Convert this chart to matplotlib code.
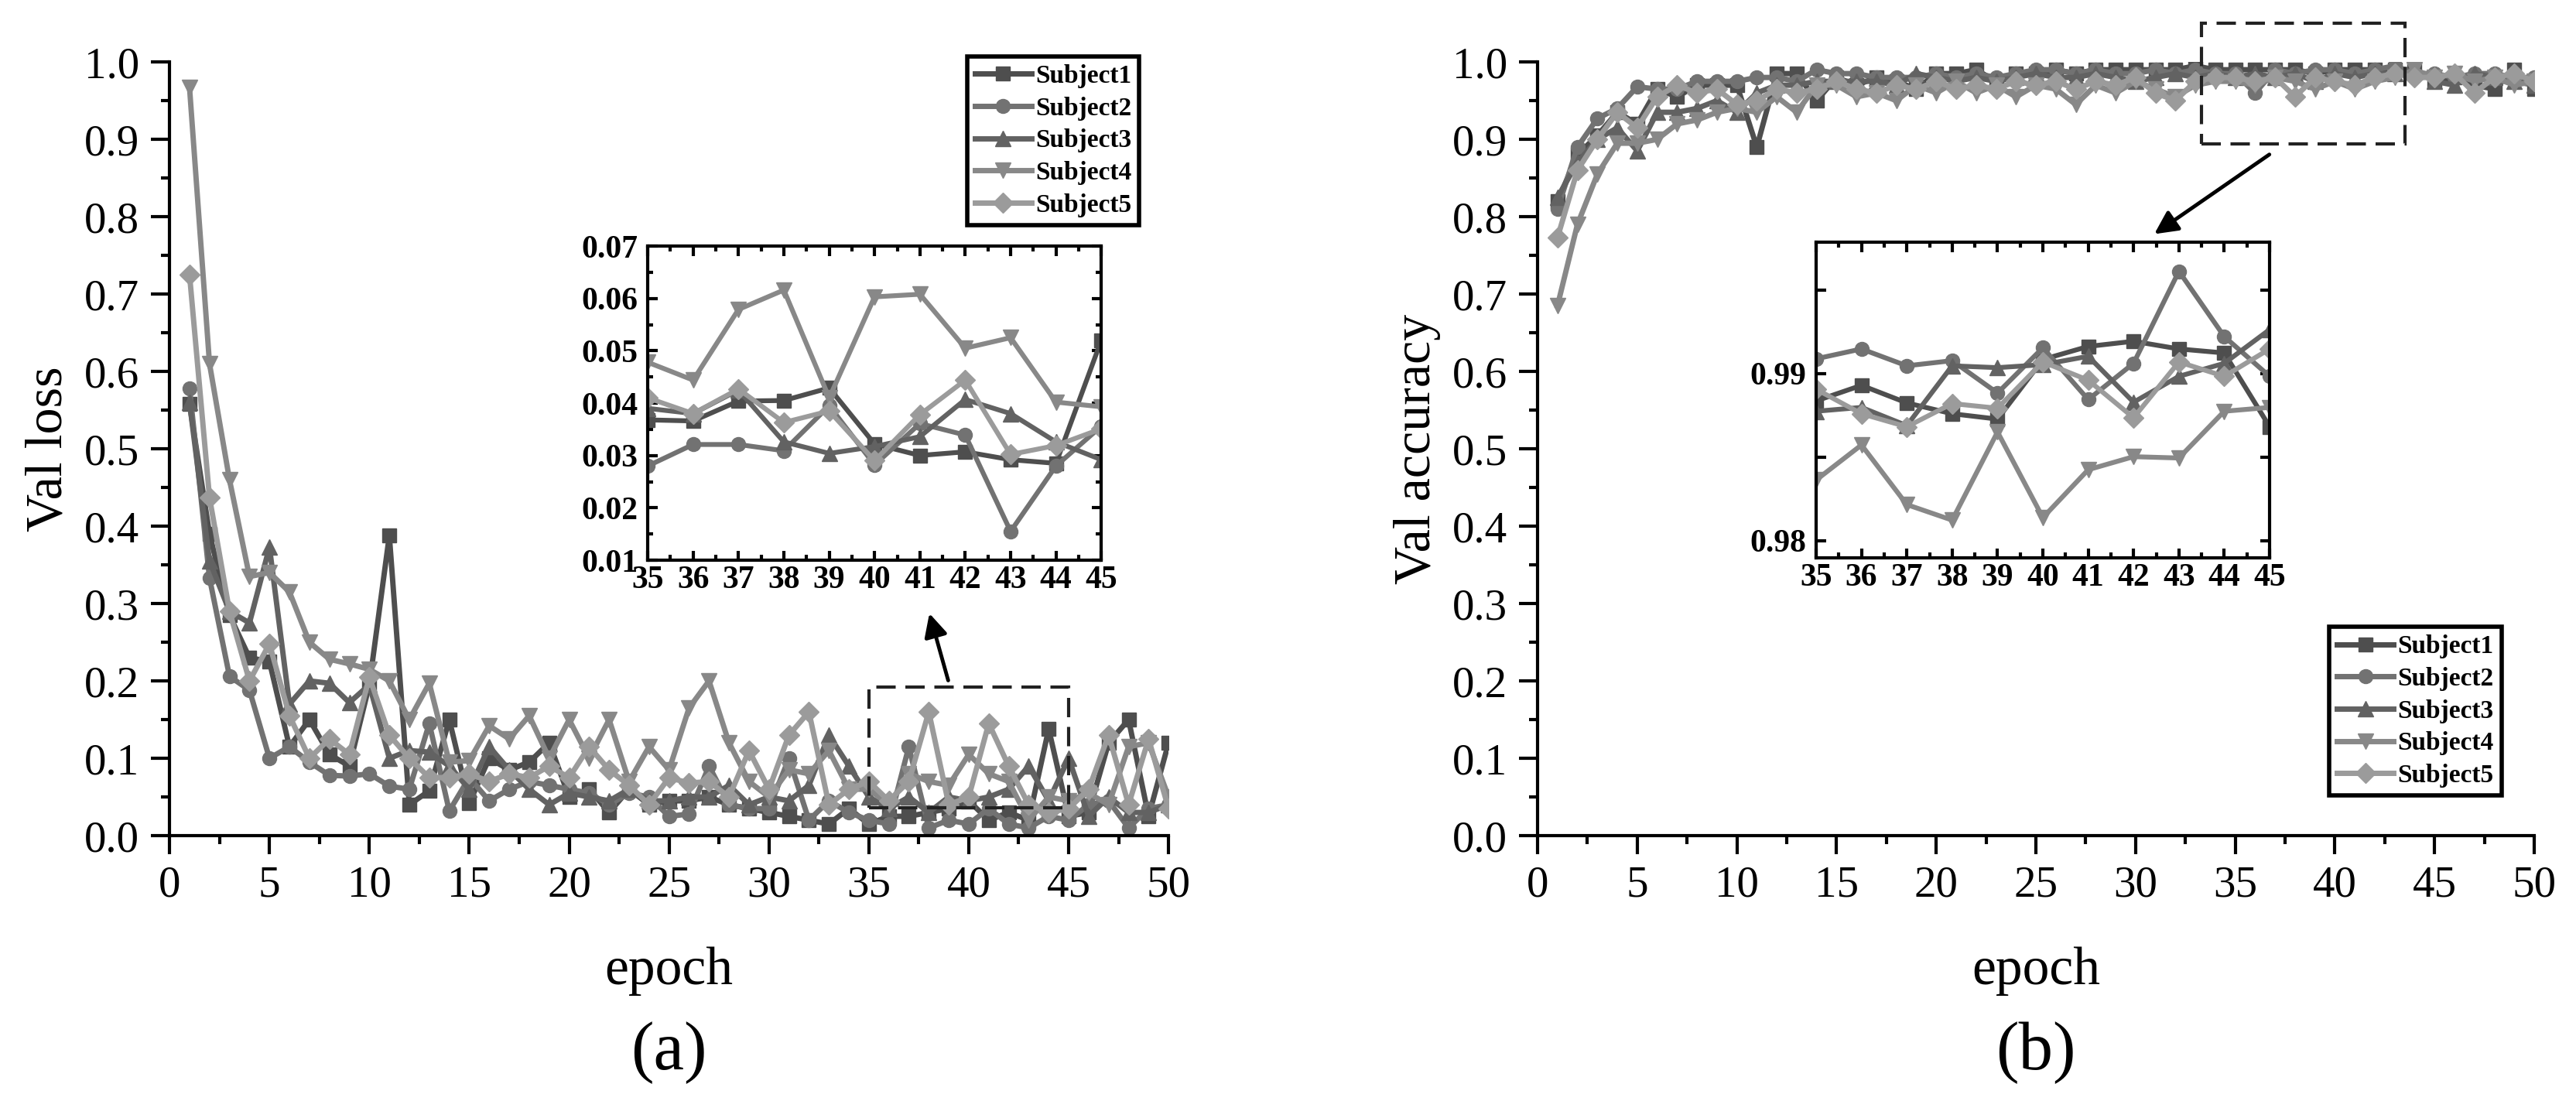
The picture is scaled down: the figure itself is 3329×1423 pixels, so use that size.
import numpy as np
import matplotlib
matplotlib.use("Agg")
from matplotlib import pyplot as plt
from matplotlib.patches import Rectangle
from matplotlib.ticker import MultipleLocator, FixedLocator

plt.rcParams['font.family'] = ['Liberation Serif', 'DejaVu Serif']

epochs = list(range(1, 51))
names = ["Subject1", "Subject2", "Subject3", "Subject4", "Subject5"]

# val loss, epochs 1..50
loss_s1 = [0.558, 0.39, 0.285, 0.23, 0.225, 0.115, 0.15, 0.105, 0.09, 0.195,
           0.388, 0.04, 0.058, 0.15, 0.042, 0.10, 0.085, 0.095, 0.12, 0.05,
           0.06, 0.03, 0.06, 0.04, 0.045, 0.045, 0.05, 0.04, 0.035, 0.03,
           0.025, 0.02, 0.015, 0.035, 0.015, 0.025, 0.025, 0.03, 0.035, 0.045,
           0.02, 0.03, 0.02, 0.138, 0.025, 0.03, 0.12, 0.15, 0.025, 0.12]
loss_s2 = [0.578, 0.333, 0.206, 0.188, 0.10, 0.115, 0.095, 0.078, 0.077, 0.08,
           0.064, 0.06, 0.145, 0.032, 0.075, 0.045, 0.06, 0.07, 0.065, 0.06,
           0.055, 0.04, 0.055, 0.05, 0.025, 0.028, 0.09, 0.04, 0.035, 0.035,
           0.10, 0.02, 0.045, 0.03, 0.02, 0.015, 0.115, 0.01, 0.02, 0.015,
           0.035, 0.015, 0.01, 0.025, 0.02, 0.04, 0.045, 0.01, 0.035, 0.04]
loss_s3 = [0.56, 0.355, 0.29, 0.275, 0.373, 0.17, 0.20, 0.197, 0.172, 0.195,
           0.10, 0.11, 0.108, 0.09, 0.06, 0.115, 0.085, 0.06, 0.04, 0.055,
           0.05, 0.045, 0.06, 0.045, 0.045, 0.05, 0.05, 0.065, 0.04, 0.05,
           0.045, 0.065, 0.13, 0.09, 0.05, 0.035, 0.05, 0.03, 0.05, 0.045,
           0.05, 0.06, 0.09, 0.045, 0.10, 0.025, 0.05, 0.03, 0.03, 0.04]
loss_s4 = [0.967, 0.61, 0.46, 0.335, 0.34, 0.315, 0.25, 0.228, 0.222, 0.215,
           0.20, 0.15, 0.197, 0.095, 0.097, 0.142, 0.125, 0.155, 0.10, 0.15,
           0.10, 0.15, 0.07, 0.115, 0.085, 0.165, 0.20, 0.12, 0.07, 0.05,
           0.085, 0.08, 0.11, 0.06, 0.06, 0.04, 0.08, 0.07, 0.065, 0.105,
           0.08, 0.07, 0.02, 0.05, 0.045, 0.055, 0.04, 0.115, 0.12, 0.05]
loss_s5 = [0.725, 0.437, 0.29, 0.20, 0.248, 0.155, 0.10, 0.125, 0.105, 0.205,
           0.13, 0.10, 0.075, 0.075, 0.08, 0.07, 0.08, 0.075, 0.09, 0.075,
           0.115, 0.085, 0.065, 0.04, 0.075, 0.068, 0.07, 0.05, 0.11, 0.06,
           0.13, 0.16, 0.04, 0.06, 0.07, 0.045, 0.07, 0.16, 0.04, 0.05,
           0.145, 0.09, 0.04, 0.03, 0.035, 0.06, 0.13, 0.04, 0.125, 0.035]

# val accuracy, epochs 1..50
acc_s1 = [0.82, 0.88, 0.905, 0.935, 0.92, 0.965, 0.955, 0.97, 0.97, 0.97,
          0.89, 0.985, 0.985, 0.95, 0.98, 0.97, 0.98, 0.975, 0.965, 0.985,
          0.985, 0.99, 0.975, 0.985, 0.985, 0.99, 0.985, 0.99, 0.99, 0.99,
          0.99, 0.99, 0.995, 0.99, 0.99, 0.99, 0.99, 0.99, 0.985, 0.99,
          0.99, 0.99, 0.99, 0.99, 0.975, 0.98, 0.97, 0.965, 0.99, 0.965]
acc_s2 = [0.81, 0.89, 0.927, 0.94, 0.968, 0.965, 0.965, 0.975, 0.975, 0.975,
          0.98, 0.98, 0.975, 0.99, 0.985, 0.985, 0.98, 0.98, 0.98, 0.985,
          0.98, 0.985, 0.98, 0.985, 0.99, 0.99, 0.985, 0.99, 0.985, 0.985,
          0.99, 0.985, 0.99, 0.985, 0.985, 0.96, 0.99, 0.985, 0.99, 0.99,
          0.985, 0.99, 0.995, 0.985, 0.985, 0.98, 0.985, 0.985, 0.98, 0.98]
acc_s3 = [0.825, 0.87, 0.90, 0.915, 0.885, 0.935, 0.935, 0.94, 0.95, 0.935,
          0.96, 0.97, 0.97, 0.975, 0.975, 0.975, 0.975, 0.97, 0.985, 0.98,
          0.975, 0.98, 0.975, 0.98, 0.985, 0.98, 0.98, 0.985, 0.98, 0.975,
          0.98, 0.985, 0.98, 0.985, 0.98, 0.985, 0.98, 0.985, 0.975, 0.985,
          0.98, 0.985, 0.985, 0.99, 0.975, 0.97, 0.985, 0.98, 0.975, 0.97]
acc_s4 = [0.685, 0.79, 0.855, 0.895, 0.895, 0.90, 0.92, 0.925, 0.935, 0.94,
          0.935, 0.955, 0.935, 0.97, 0.97, 0.955, 0.96, 0.95, 0.97, 0.96,
          0.975, 0.96, 0.97, 0.955, 0.97, 0.965, 0.945, 0.97, 0.96, 0.975,
          0.965, 0.955, 0.97, 0.975, 0.975, 0.97, 0.98, 0.975, 0.965, 0.975,
          0.965, 0.975, 0.98, 0.99, 0.98, 0.985, 0.975, 0.98, 0.97, 0.975]
acc_s5 = [0.773, 0.86, 0.90, 0.935, 0.915, 0.955, 0.97, 0.96, 0.965, 0.945,
          0.95, 0.965, 0.96, 0.965, 0.975, 0.965, 0.96, 0.97, 0.965, 0.975,
          0.965, 0.97, 0.965, 0.975, 0.97, 0.975, 0.965, 0.975, 0.97, 0.98,
          0.96, 0.95, 0.975, 0.98, 0.98, 0.975, 0.98, 0.955, 0.98, 0.975,
          0.97, 0.98, 0.985, 0.98, 0.98, 0.985, 0.96, 0.98, 0.985, 0.975]

# zoomed insets, epochs 35..45
zoom_epochs = list(range(35, 46))
zloss_s1 = [0.0368, 0.0366, 0.0404, 0.0405, 0.0429, 0.0322, 0.0300, 0.0307, 0.0292, 0.0285, 0.0520]
zloss_s2 = [0.0280, 0.0321, 0.0321, 0.0309, 0.0395, 0.0282, 0.0361, 0.0339, 0.0155, 0.0280, 0.0356]
zloss_s3 = [0.0390, 0.0380, 0.0425, 0.0326, 0.0304, 0.0317, 0.0336, 0.0407, 0.0380, 0.0326, 0.0292]
zloss_s4 = [0.0478, 0.0444, 0.0579, 0.0616, 0.0410, 0.0603, 0.0608, 0.0505, 0.0525, 0.0402, 0.0393]
zloss_s5 = [0.0410, 0.0380, 0.0427, 0.0363, 0.0385, 0.0290, 0.0378, 0.0444, 0.0302, 0.0319, 0.0351]

zacc_s1 = [0.98837, 0.9893, 0.98825, 0.9876, 0.98728, 0.99085, 0.99163, 0.99194, 0.99148, 0.99124, 0.98682]
zacc_s2 = [0.99089, 0.99148, 0.99047, 0.99078, 0.98884, 0.99155, 0.98845, 0.99062, 0.99613, 0.99222, 0.98984]
zacc_s3 = [0.98775, 0.98798, 0.98689, 0.99047, 0.99036, 0.99054, 0.99104, 0.98829, 0.98984, 0.99062, 0.99264]
zacc_s4 = [0.98363, 0.98573, 0.98216, 0.98123, 0.98651, 0.98138, 0.98425, 0.98503, 0.98495, 0.98775, 0.98798]
zacc_s5 = [0.98907, 0.9876, 0.98682, 0.98821, 0.98793, 0.9907, 0.98961, 0.98736, 0.9907, 0.98984, 0.99148]

colors = ['#4e4e4e', '#727272', '#626262', '#888888', '#9b9b9b']
markers = ['s', 'o', '^', 'v', 'D']
msizes = [13, 13, 15, 15, 13]

fig = plt.figure(figsize=(33.3, 14.23), dpi=100)


def style_main(ax, ylab, panel):
    ax.set_xlim(0, 50)
    ax.set_ylim(0, 1.0)
    for s in ['top', 'right']:
        ax.spines[s].set_visible(False)
    for s in ['left', 'bottom']:
        ax.spines[s].set_linewidth(3)
    ax.xaxis.set_major_locator(MultipleLocator(5))
    ax.xaxis.set_minor_locator(MultipleLocator(2.5))
    ax.yaxis.set_major_locator(MultipleLocator(0.1))
    ax.yaxis.set_minor_locator(MultipleLocator(0.05))
    ax.yaxis.set_major_formatter(plt.FuncFormatter(lambda v, p: "%.1f" % v))
    ax.tick_params(which='major', direction='out', length=17, width=3,
                   labelsize=41, pad=11)
    ax.tick_params(which='minor', direction='out', length=8, width=3)
    ax.set_ylabel(ylab, fontsize=49)
    ax.yaxis.set_label_coords(-0.097, 0.5)
    ax.text(0.5, -0.192, "epoch", transform=ax.transAxes, fontsize=50,
            ha='center', va='baseline')
    ax.text(0.5, -0.302, panel, transform=ax.transAxes, fontsize=64,
            ha='center', va='baseline')


def style_inset(ax):
    ax.set_xlim(35, 45)
    for s in ax.spines.values():
        s.set_linewidth(3)
    ax.xaxis.set_major_locator(MultipleLocator(1))
    ax.xaxis.set_minor_locator(MultipleLocator(0.5))
    ax.tick_params(which='both', direction='in', top=True, right=True, width=3)
    ax.tick_params(which='major', length=9, labelsize=30)
    ax.tick_params(axis='x', which='major', pad=5)
    ax.tick_params(axis='y', which='major', pad=9)
    ax.tick_params(which='minor', length=5)
    for lab in ax.get_xticklabels() + ax.get_yticklabels():
        lab.set_fontweight('bold')


def draw(ax, x, series, lw=5):
    for i, y in enumerate(series):
        ax.plot(x, y, color=colors[i], marker=markers[i], lw=lw,
                ms=msizes[i], mec=colors[i], mfc=colors[i], label=names[i])


def add_legend(ax, loc, anchor):
    leg = ax.legend(loc=loc, bbox_to_anchor=anchor, borderaxespad=0,
                    prop={'weight': 'bold', 'size': 24},
                    handlelength=2.2, handletextpad=0.15, labelspacing=0.32,
                    borderpad=0.3, fancybox=False, framealpha=1, edgecolor='k')
    leg.get_frame().set_linewidth(4)
    return leg


# ---- (a) loss ----
ax1 = fig.add_axes([0.0658, 0.241, 0.3877, 0.7027])
draw(ax1, epochs, [loss_s1, loss_s2, loss_s3, loss_s4, loss_s5])
style_main(ax1, "Val loss", "(a)")
add_legend(ax1, 'upper right', (0.9706, 1.007))
ax1.add_patch(Rectangle((35, 0.036), 10, 0.156, fill=False, ec='#222222',
                        lw=3, ls=(0, (6, 3)), zorder=5, clip_on=False))
ax1.annotate('', xy=(38.0, 0.29), xytext=(39.0, 0.198),
             arrowprops=dict(arrowstyle='-|>', lw=3.5, color='k',
                             mutation_scale=45), annotation_clip=False)

ins1 = fig.add_axes([0.2514, 0.4912, 0.176, 0.2853])
draw(ins1, zoom_epochs, [zloss_s1, zloss_s2, zloss_s3, zloss_s4, zloss_s5], lw=4.5)
ins1.set_ylim(0.01, 0.07)
ins1.yaxis.set_major_locator(MultipleLocator(0.01))
ins1.yaxis.set_minor_locator(MultipleLocator(0.005))
ins1.yaxis.set_major_formatter(plt.FuncFormatter(lambda v, p: "%.2f" % v))
style_inset(ins1)

# ---- (b) accuracy ----
ax2 = fig.add_axes([0.5967, 0.241, 0.3868, 0.7027])
draw(ax2, epochs, [acc_s1, acc_s2, acc_s3, acc_s4, acc_s5])
style_main(ax2, "Val accuracy", "(b)")
add_legend(ax2, 'lower right', (0.967, 0.052))
ax2.add_patch(Rectangle((33.3, 0.894), 10.2, 0.156, fill=False, ec='#222222',
                        lw=3, ls=(0, (6, 3)), zorder=5, clip_on=False))
ax2.annotate('', xy=(30.85, 0.776), xytext=(36.8, 0.882),
             arrowprops=dict(arrowstyle='-|>', lw=3.5, color='k',
                             mutation_scale=45), annotation_clip=False)

ins2 = fig.add_axes([0.7048, 0.4933, 0.176, 0.2867])
draw(ins2, zoom_epochs, [zacc_s1, zacc_s2, zacc_s3, zacc_s4, zacc_s5], lw=4.5)
ins2.set_ylim(0.97897, 0.99787)
ins2.yaxis.set_major_locator(FixedLocator([0.98, 0.99]))
ins2.yaxis.set_minor_locator(FixedLocator([0.985, 0.995]))
ins2.yaxis.set_major_formatter(plt.FuncFormatter(lambda v, p: "%.2f" % v))
style_inset(ins2)
ins2.tick_params(axis='y', which='minor', length=9)

fig.savefig("out.png", dpi=100, facecolor='white')
